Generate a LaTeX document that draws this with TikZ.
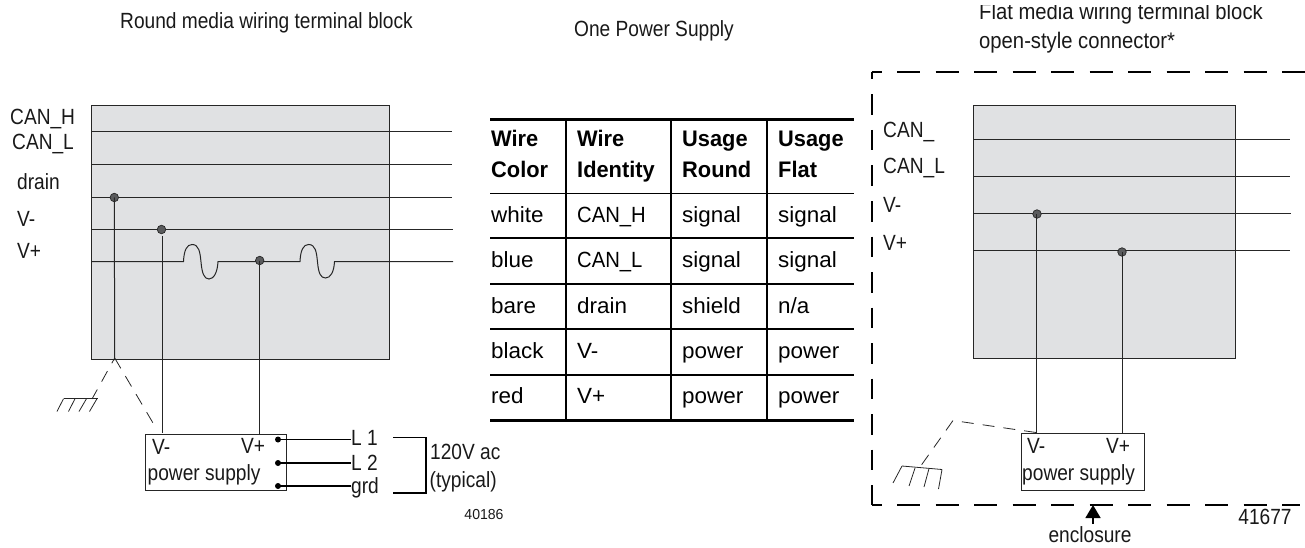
\documentclass[tikz,border=0pt]{standalone}
\usepackage{fontspec}
\setmainfont{Liberation Sans}
\newfontfamily\cond[FakeStretch=0.87]{Liberation Sans}
\newfontfamily\condw[FakeStretch=0.90]{Liberation Sans}
\newfontfamily\tabc[FakeStretch=0.92]{Liberation Sans}
\newfontfamily\tabf[FakeStretch=1.02]{Liberation Sans}
\newfontfamily\tabh[FakeStretch=0.97]{Liberation Sans}
\usetikzlibrary{arrows.meta}
\definecolor{panelgray}{HTML}{E0E1E3}
\definecolor{dotgray}{HTML}{5A5B5D}
\tikzset{
  x=1pt,y=-1pt,
  lbl/.style={anchor=base west,inner sep=0pt,font=\fontsize{22}{24}\selectfont\cond,text=black!90},
  ttl/.style={anchor=base west,inner sep=0pt,font=\fontsize{22}{24}\selectfont\cond,text=black!90},
  ttlw/.style={anchor=base west,inner sep=0pt,font=\fontsize{22.5}{24}\selectfont\condw,text=black!90},
  smalllbl/.style={anchor=base,inner sep=0pt,font=\fontsize{14.5}{16}\selectfont\tabh,text=black!90},
  biglbl/.style={anchor=base,inner sep=0pt,font=\fontsize{22}{24}\selectfont\cond,text=black!90},
  cell/.style={anchor=base west,inner sep=0pt,font=\fontsize{22}{24}\selectfont\tabf,text=black},
  cellcap/.style={anchor=base west,inner sep=0pt,font=\fontsize{22}{24}\selectfont\tabc,text=black},
  head/.style={anchor=base west,inner sep=0pt,font=\fontsize{22.5}{24}\selectfont\tabh\bfseries,text=black},
  panel/.style={draw=black!85,line width=1pt,fill=panelgray,anchor=north west,inner sep=0pt},
  psubox/.style={draw=black!85,line width=1pt,fill=white,anchor=north west,inner sep=0pt},
  wire/.style={draw=black!85,line width=1pt},
  tap/.style={circle,draw=black!85,fill=dotgray,line width=0.7pt,minimum size=8.5pt,inner sep=0pt},
  term/.style={circle,fill=black,minimum size=6pt,inner sep=0pt},
  mains/.style={draw=black,line width=1.5pt},
  fine/.style={draw=black!85,line width=0.8pt},
  earthdash/.style={draw=black!85,line width=0.8pt,dash pattern=on 12pt off 9pt},
  frameh/.style={draw=black,line width=2pt,dash pattern=on 23pt off 15.5pt,dash phase=13pt},
  framev/.style={draw=black,line width=2pt,dash pattern=on 20.5pt off 15pt,dash phase=13pt},
  thickrule/.style={draw=black,line width=3pt},
  rulex/.style={draw=black,line width=1.7pt},
}
\begin{document}
\begin{tikzpicture}
\useasboundingbox (0,0) rectangle (1305,548);
\clip (0,0) rectangle (1305,548);
% ---------- titles
\node[ttl] (t1) at (120,29) {Round media wiring terminal block};
\node[ttl] (t2) at (574,37) {One Power Supply};
\begin{scope}
\clip (900,6) rectangle (1305,30);
\node[ttlw] (t3) at (979,19.5) {Flat media wiring terminal block};
\end{scope}
\node[ttlw] (t4) at (979,49) {open-style connector*};
% ---------- left block
\node[panel,minimum width=298pt,minimum height=253.5pt] (lb) at (90.5,105.5) {};
\coordinate (la1) at (92,132);   \coordinate (lb1) at (452,132);
\coordinate (la2) at (92,164.5); \coordinate (lb2) at (452,164.5);
\coordinate (la3) at (92,197);   \coordinate (lb3) at (452,197);
\coordinate (la4) at (92,229.5); \coordinate (lb4) at (453,229.5);
\coordinate (la5) at (92,261.5); \coordinate (lb5) at (453,261.5);
\draw[wire] (la1) -- (lb1);
\draw[wire] (la2) -- (lb2);
\draw[wire] (la3) -- (lb3);
\draw[wire] (la4) -- (lb4);
\draw[wire] (la5) -- (183.5,261.5)
  .. controls (184,250) and (187,244.5) .. (192,244.5)
  .. controls (199,244.5) and (200,252) .. (201,262)
  .. controls (202,273) and (204,279) .. (209,279)
  .. controls (214,279) and (217.5,272) .. (218,261.5)
  -- (300,261.5)
  .. controls (300.5,250) and (303.5,244.5) .. (308.5,244.5)
  .. controls (315.5,244.5) and (316.5,252) .. (317.5,262)
  .. controls (318.5,273) and (320.5,278) .. (325.5,278)
  .. controls (330.5,278) and (334,272) .. (334.5,261.5)
  -- (lb5);
\node[psubox,minimum width=141pt,minimum height=56.5pt] (lp) at (144.5,433.5) {};
\node[tap] (ld) at (114.3,197.5) {};
\node[tap] (lv) at (161.5,229.5) {};
\node[tap] (lw) at (259.7,260.5) {};
\coordinate (lgnd) at (114.7,360);
\draw[wire] (ld.center) -- (lgnd);
\draw[wire] (lv.south) ++(0.5,2) -- ++(0,197);
\draw[wire] (lw.center) -- (lw.center |- lp.north);
\coordinate (lk) at (114.7,358);
\draw[earthdash] (lk) -- (153,423);
\draw[earthdash,dash phase=6pt] (lk) -- (92,399);
% ground left
\draw[fine] (63.5,398.7) -- (98,398.7);
\draw[fine] (63.5,398.7) -- (57,411.5);
\draw[fine] (75,398.7) -- (68.5,411.5);
\draw[fine] (86.5,398.7) -- (79,411.5);
\draw[fine] (97,398.7) -- (89.5,411.5);
% left labels
\node[lbl] (a1) at (10,124.5) {CAN\_H};
\node[lbl] (a2) at (12,149.5) {CAN\_L};
\node[lbl] (a3) at (17,189.5) {drain};
\node[lbl] (a4) at (17,226.5) {V-};
\node[lbl] (a5) at (17,258.5) {V+};
% left power supply
\node[lbl] (p1) at (152,454) {V-};
\node[lbl] (p2) at (241,453) {V+};
\node[lbl] (p3) at (147.5,480) {power supply};
\node[term] (k1) at (278,439.5) {};
\node[term] (k2) at (278,463) {};
\node[term] (k3) at (278,486) {};
\node[lbl] (m1) at (351,445) {L 1};
\node[lbl] (m2) at (351,470) {L 2};
\node[lbl] (m3) at (351,493) {grd};
\draw[mains] (k1.center) -- (k1.center -| m1.west);
\draw[mains] (k2.center) -- (k2.center -| m2.west);
\draw[mains] (k3.center) -- (k3.center -| m3.west);
\draw[mains] (393,437.5) -- (426,437.5) -- (426,493) -- (393,493);
\node[lbl] (v1) at (430,459) {120V ac};
\node[lbl] (v2) at (429.5,487) {(typical)};
\node[smalllbl] (n1) at (484,519) {40186};
% ---------- table
\draw[thickrule] (490,119.5) -- (854,119.5);
\draw[thickrule] (490,420.5) -- (854,420.5);
\foreach \yy in {193.5,238,284,329,375} \draw[rulex] (490,\yy) -- (854,\yy);
\foreach \xx in {566,671,767} \draw[rulex] (\xx,119.5) -- (\xx,420.5);
\node[head] (h11) at (491,147) {Wire};  \node[head] (h12) at (491,178) {Color};
\node[head] (h21) at (577,147) {Wire};  \node[head] (h22) at (577,178) {Identity};
\node[head] (h31) at (682,147) {Usage}; \node[head] (h32) at (682,178) {Round};
\node[head] (h41) at (778,147) {Usage}; \node[head] (h42) at (778,178) {Flat};
\node[cell] (c11) at (491,222) {white}; \node[cellcap] (c12) at (577,222) {CAN\_H}; \node[cell] (c13) at (682,222) {signal}; \node[cell] (c14) at (778,222) {signal};
\node[cell] (c21) at (491,267) {blue};  \node[cellcap] (c22) at (577,267) {CAN\_L}; \node[cell] (c23) at (682,267) {signal}; \node[cell] (c24) at (778,267) {signal};
\node[cell] (c31) at (491,313) {bare};  \node[cell] (c32) at (577,313) {drain};  \node[cell] (c33) at (682,313) {shield}; \node[cell] (c34) at (778,313) {n/a};
\node[cell] (c41) at (491,358) {black}; \node[cell] (c42) at (577,358) {V-};     \node[cell] (c43) at (682,358) {power};  \node[cell] (c44) at (778,358) {power};
\node[cell] (c51) at (491,403) {red};   \node[cell] (c52) at (577,403) {V+};     \node[cell] (c53) at (682,403) {power};  \node[cell] (c54) at (778,403) {power};
% ---------- enclosure frame
\draw[frameh] (871.5,72.5) -- (1305,72.5);
\draw[frameh] (871.5,505) -- (1300,505);
\draw[framev] (872,72) -- (872,505);
% ---------- right block
\node[panel,minimum width=261.5pt,minimum height=252.5pt] (rb) at (973,105.5) {};
\coordinate (ra1) at (973,140);   \coordinate (rb1) at (1290,140);
\coordinate (ra2) at (973,177);   \coordinate (rb2) at (1290,177);
\coordinate (ra3) at (973,213.5); \coordinate (rb3) at (1291,213.5);
\coordinate (ra4) at (973,250);   \coordinate (rb4) at (1290,250);
\draw[wire] (ra1) -- (rb1);
\draw[wire] (ra2) -- (rb2);
\draw[wire] (ra3) -- (rb3);
\draw[wire] (ra4) -- (rb4);
\node[psubox,minimum width=123.5pt,minimum height=57pt] (rp) at (1020.5,432.5) {};
\node[tap] (rv) at (1037,214) {};
\node[tap] (rw) at (1122,252) {};
\draw[wire] (1036,214) -- (1036,432.5);
\draw[wire] (rw.center) -- (rw.center |- rp.north);
\coordinate (rk) at (953,420.5);
\draw[earthdash] (1036,432.5) -- (rk) -- (920,467);
% ground right
\draw[fine] (902,466) -- (942,469.5);
\draw[fine] (902,466) -- (893,483);
\draw[fine] (915,468) -- (909,486);
\draw[fine] (929,468.5) -- (924,487);
\draw[fine] (942,469.5) -- (938.5,489);
% right labels
\node[lbl] (b1) at (883,138) {CAN\_};
\node[lbl] (b2) at (883,174) {CAN\_L};
\node[lbl] (b3) at (883,212) {V-};
\node[lbl] (b4) at (883,250) {V+};
\node[lbl] (q1) at (1027,453) {V-};
\node[lbl] (q2) at (1106,453) {V+};
\node[lbl] (q3) at (1022,480) {power supply};
% enclosure pointer
\node[biglbl] (e1) at (1090,542) {enclosure};
\node[biglbl] (e2) at (1265,524) {41677};
\coordinate (etip) at (1093,505);
\draw[draw=black,line width=1.5pt,-{Triangle[length=13pt,width=15pt]}] (1093,524) -- (etip);
\end{tikzpicture}
\end{document}
